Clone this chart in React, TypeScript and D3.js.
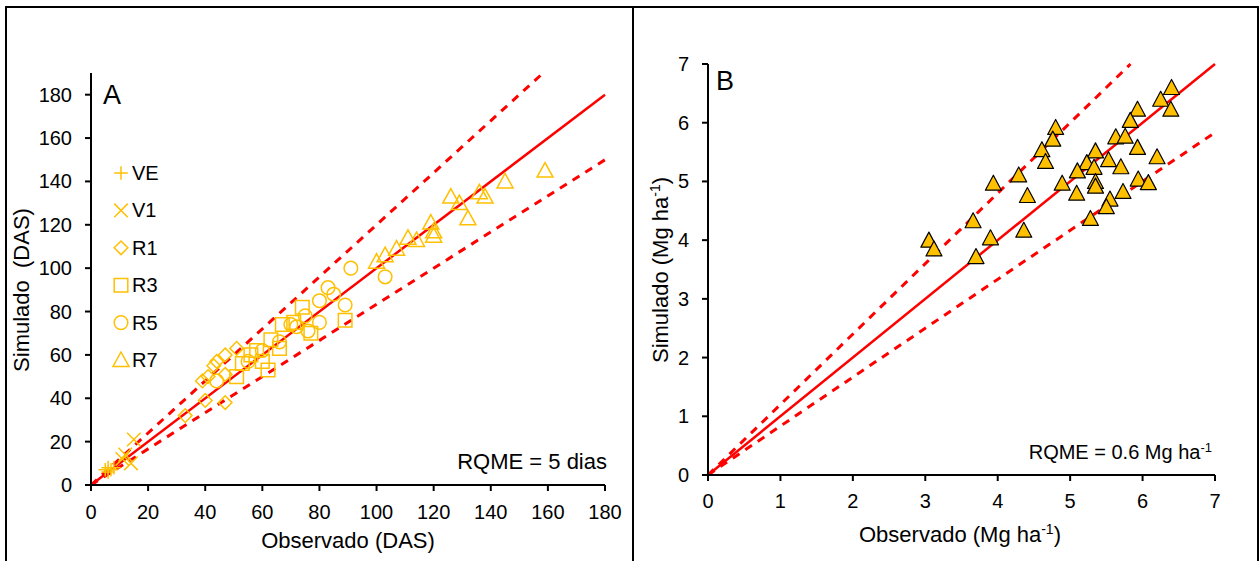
import React from "react";
import * as d3 from "d3";

// ---------- DATA ----------
const ticksA = [0, 20, 40, 60, 80, 100, 120, 140, 160, 180];
const ticksB = [0, 1, 2, 3, 4, 5, 6, 7];
const stagesA = ["VE", "V1", "R1", "R3", "R5", "R7"];

const VE: [number, number][] = [[5, 7], [6, 8], [6, 6], [7, 7], [8, 8]];
const V1: [number, number][] = [[15, 21], [12, 14], [14, 10], [11, 12]];
const R1: [number, number][] = [[33, 32], [40, 39], [47, 38], [39, 48], [43, 55], [47, 60], [51, 63], [41, 50], [47, 51], [44, 57]];
const R3: [number, number][] = [[51, 50], [56, 60], [58, 62], [62, 53], [63, 67], [66, 63], [67, 74], [71, 75], [74, 82], [77, 70], [89, 76], [60, 57], [53, 56]];
const R5: [number, number][] = [[91, 100], [83, 91], [85, 88], [80, 85], [89, 83], [75, 78], [80, 75], [70, 74], [76, 71], [66, 66], [103, 96], [55, 57], [72, 73], [60, 62], [44, 48]];
const R7: [number, number][] = [[159, 145], [145, 140], [136, 135], [138, 133], [126, 133], [129, 130], [132, 123], [119, 121], [120, 117], [120, 115], [111, 114], [114, 113], [107, 109], [103, 106], [100, 103]];

const yieldB: [number, number][] = [
  [6.40, 6.60], [6.25, 6.40], [6.39, 6.23], [5.93, 6.23], [5.83, 6.04], [5.63, 5.76], [5.76, 5.77],
  [5.93, 5.58], [6.20, 5.42], [4.80, 5.92], [4.76, 5.72], [4.61, 5.54], [4.66, 5.34], [4.29, 5.11],
  [3.94, 4.97], [4.41, 4.76], [3.66, 4.33], [3.90, 4.04], [4.36, 4.17], [3.70, 3.72], [5.35, 5.52],
  [5.23, 5.32], [5.33, 5.24], [5.10, 5.18], [5.53, 5.37], [5.70, 5.25], [4.89, 4.97], [5.35, 5.00],
  [5.35, 4.92], [5.09, 4.80], [5.94, 5.04], [6.08, 4.98], [5.73, 4.83], [5.55, 4.70], [5.50, 4.57],
  [5.28, 4.37], [3.05, 4.00], [3.12, 3.85],
];

const upperFactor = 1.2;
const lowerFactor = 1 / 1.2;

// ---------- STYLE ----------
const FONT = "'Liberation Sans', Arial, sans-serif";
const GOLD = "#FFC000";
const RED = "#FF0000";

const xA = d3.scaleLinear().domain([0, 180]).range([91, 605]);
const yA = d3.scaleLinear().domain([0, 190]).range([485, 73]);
const xB = d3.scaleLinear().domain([0, 7]).range([708, 1215]);
const yB = d3.scaleLinear().domain([0, 7]).range([475, 64]);

function markerPath(kind: string, x: number, y: number): string {
  const s = 6.8;
  switch (kind) {
    case "VE":
      return `M${x - s},${y}H${x + s}M${x},${y - s}V${y + s}`;
    case "V1":
      return `M${x - s},${y - s}L${x + s},${y + s}M${x - s},${y + s}L${x + s},${y - s}`;
    case "R1":
      return `M${x},${y - s}L${x + s},${y}L${x},${y + s}L${x - s},${y}Z`;
    case "R3":
      return `M${x - s},${y - s}H${x + s}V${y + s}H${x - s}Z`;
    case "R5":
      return `M${x + s},${y}A${s},${s} 0 1,1 ${x - s},${y}A${s},${s} 0 1,1 ${x + s},${y}Z`;
    default:
      return `M${x},${y - 8}L${x + 8},${y + 6.5}L${x - 8},${y + 6.5}Z`;
  }
}

function refLines(xs: d3.ScaleLinear<number, number>, ys: d3.ScaleLinear<number, number>, xmax: number, ymax: number) {
  const seg = (f: number) => {
    const x1 = Math.min(xmax, ymax / f);
    return [xs(0), ys(0), xs(x1), ys(x1 * f)];
  };
  const s = seg(1), u = seg(upperFactor), l = seg(lowerFactor);
  return (
    <g>
      <line x1={u[0]} y1={u[1]} x2={u[2]} y2={u[3]} stroke={RED} strokeWidth={3} strokeDasharray="8,7" />
      <line x1={l[0]} y1={l[1]} x2={l[2]} y2={l[3]} stroke={RED} strokeWidth={3} strokeDasharray="8,7" />
      <line x1={s[0]} y1={s[1]} x2={s[2]} y2={s[3]} stroke={RED} strokeWidth={2.5} />
    </g>
  );
}

export default function App() {
  const seriesA: [string, [number, number][]][] = [["VE", VE], ["V1", V1], ["R1", R1], ["R3", R3], ["R5", R5], ["R7", R7]];
  const tri = (x: number, y: number) => `M${x},${y - 8}L${x + 8},${y + 7}L${x - 8},${y + 7}Z`;
  return (
    <svg width={1259} height={561} style={{ position: "absolute", left: 0, top: 0, background: "#fff" }} fontFamily={FONT}>
      <rect x={0} y={0} width={1259} height={561} fill="#fff" />
      {/* frame */}
      <path d="M6,600V7H1258V600M633,7V600" fill="none" stroke="#000" strokeWidth={2} />

      {/* ---------- Panel A ---------- */}
      {refLines(xA, yA, 180, 190)}
      {seriesA.map(([k, pts]) => (
        <g key={k}>
          {pts.map((p, i) => (
            <path key={i} d={markerPath(k, xA(p[0]), yA(p[1]))} fill="none" stroke={GOLD} strokeWidth={1.5} />
          ))}
        </g>
      ))}
      {/* axes A */}
      <line x1={xA(0)} y1={yA(0)} x2={xA(0)} y2={yA(190)} stroke="#000" strokeWidth={2} />
      <line x1={xA(0)} y1={yA(0)} x2={xA(180)} y2={yA(0)} stroke="#000" strokeWidth={2} />
      {ticksA.map((t) => (
        <g key={"ay" + t}>
          <line x1={xA(0) - 6} x2={xA(0)} y1={yA(t)} y2={yA(t)} stroke="#000" strokeWidth={2} />
          <text x={72} y={yA(t) + 7} textAnchor="end" fontSize={20}>{t}</text>
          <line x1={xA(t)} x2={xA(t)} y1={yA(0)} y2={yA(0) + 6} stroke="#000" strokeWidth={2} />
          <text x={xA(t)} y={519} textAnchor="middle" fontSize={20}>{t}</text>
        </g>
      ))}
      <text x={103} y={104} fontSize={27}>A</text>
      {stagesA.map((k, i) => {
        const cy = 173 + i * 37.4;
        return (
          <g key={"lg" + k}>
            <path d={markerPath(k, 121, cy)} fill="none" stroke={GOLD} strokeWidth={1.5} />
            <text x={132} y={cy + 7} fontSize={20}>{k}</text>
          </g>
        );
      })}
      <text x={607} y={469} textAnchor="end" fontSize={22}>RQME = 5 dias</text>
      <text x={348} y={548} textAnchor="middle" fontSize={22}>Observado (DAS)</text>
      <text transform="translate(29,290) rotate(-90)" textAnchor="middle" fontSize={22} xmlSpace="preserve">Simulado  (DAS)</text>

      {/* ---------- Panel B ---------- */}
      {refLines(xB, yB, 7, 7)}
      {yieldB.map((p, i) => (
        <path key={"b" + i} d={tri(xB(p[0]), yB(p[1]))} fill={GOLD} stroke="#000" strokeWidth={1.2} strokeLinejoin="round" />
      ))}
      <line x1={xB(0)} y1={yB(0)} x2={xB(0)} y2={yB(7)} stroke="#000" strokeWidth={2} />
      <line x1={xB(0)} y1={yB(0)} x2={xB(7)} y2={yB(0)} stroke="#000" strokeWidth={2} />
      {ticksB.map((t) => (
        <g key={"by" + t}>
          <line x1={xB(0) - 6} x2={xB(0)} y1={yB(t)} y2={yB(t)} stroke="#000" strokeWidth={2} />
          <text x={689} y={yB(t) + 7} textAnchor="end" fontSize={20}>{t}</text>
          <line x1={xB(t)} x2={xB(t)} y1={yB(0)} y2={yB(0) + 6} stroke="#000" strokeWidth={2} />
          <text x={xB(t)} y={508} textAnchor="middle" fontSize={20}>{t}</text>
        </g>
      ))}
      <text x={716} y={90} fontSize={27}>B</text>
      <text x={1212} y={459} textAnchor="end" fontSize={20}>
        RQME = 0.6 Mg ha<tspan dy={-7} fontSize={13}>-1</tspan>
      </text>
      <text x={960} y={542} textAnchor="middle" fontSize={22}>
        Observado (Mg ha<tspan dy={-8} fontSize={14}>-1</tspan><tspan dy={8}>)</tspan>
      </text>
      <text transform="translate(668,270) rotate(-90)" textAnchor="middle" fontSize={22}>
        Simulado (Mg ha<tspan dy={-8} fontSize={14}>-1</tspan><tspan dy={8}>)</tspan>
      </text>
    </svg>
  );
}
